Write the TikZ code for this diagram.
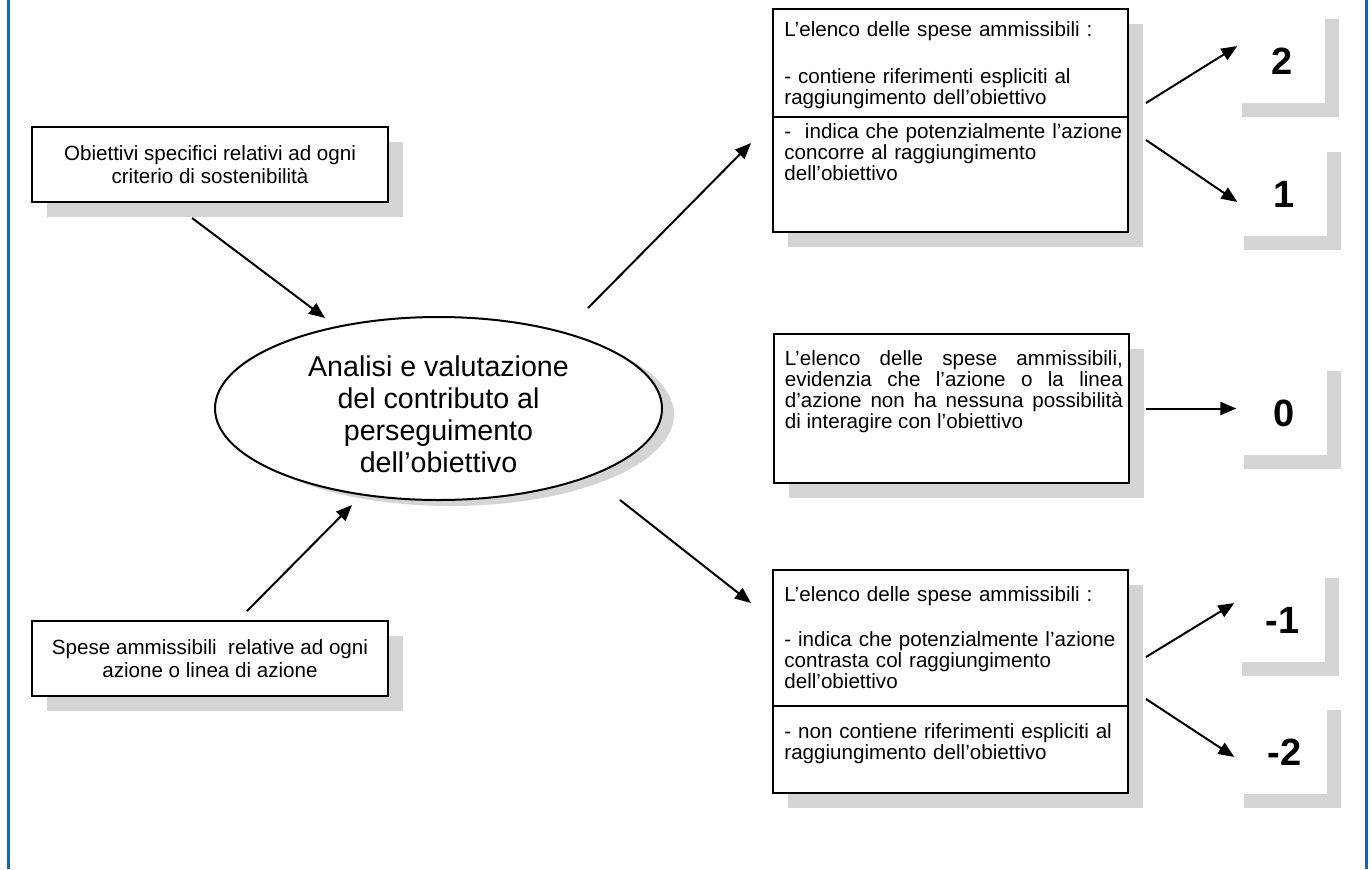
\documentclass[tikz,border=0pt]{standalone}
\usepackage{fontspec}
\setmainfont{Liberation Sans}
\usetikzlibrary{arrows.meta, shapes.geometric, shadows, calc}

\definecolor{shadowgray}{RGB}{211,212,214}
\definecolor{frameblue}{RGB}{20,100,180}

\begin{document}
\begin{tikzpicture}[
    x=0.5pt, y=-0.5pt,
    card/.style={rectangle, draw, line width=1pt, fill=white,
        drop shadow={shadow xshift=7.5pt, shadow yshift=-7.5pt, fill=shadowgray, opacity=1}},
    source/.style={card, minimum width=178pt, minimum height=37.5pt, align=center,
        font=\fontsize{10.3pt}{11.5pt}\selectfont},
    result/.style={card, minimum width=177.5pt},
    note/.style={anchor=north west, inner sep=0pt, text width=170pt, align=left,
        font=\fontsize{10.3pt}{10.4pt}\selectfont},
    score/.style={minimum width=48.75pt, minimum height=49pt, inner sep=0pt, fill=white,
        drop shadow={shadow xshift=7pt, shadow yshift=-7pt, fill=shadowgray, opacity=1},
        font=\bfseries\fontsize{19pt}{19pt}\selectfont, text height=20.6pt, text depth=0pt,
        execute at begin node={\hspace*{6pt}}},
    link/.style={line width=1pt, -{Triangle[length=8pt, width=6.5pt]}}
]
\useasboundingbox (0,0) rectangle (1372,869);

% frame
\draw[frameblue, line width=1.5pt] (8,0) -- (8,869);
\draw[frameblue, line width=1.5pt] (1366,0) -- (1366,869);

% inputs
\node[source] (goal) at (210,164.5) {Obiettivi specifici relativi ad ogni\\criterio di sostenibilità};
\node[source] (spend) at (210,658.5) {Spese ammissibili\ \ relative ad ogni\\azione o linea di azione};

% evaluation
\node[ellipse, draw, line width=1pt, fill=white, inner sep=0pt,
      minimum width=223.5pt, minimum height=91.5pt, align=center,
      font=\fontsize{14.3pt}{16pt}\selectfont,
      drop shadow={shadow xshift=6pt, shadow yshift=-3pt, fill=shadowgray, opacity=1}]
    (eval) at (438.5,408.5) {\rule{0pt}{16pt}Analisi e valutazione\\del contributo al\\perseguimento\\dell'obiettivo};

% outcome boxes
\node[result, minimum height=111.5pt] (pos) at (950.5,120.5) {};
\node[result, minimum height=74.5pt] (none) at (951,408.5) {};
\node[result, minimum height=111.5pt] (neg) at (950.5,681.5) {};
\draw[line width=1pt] ($(pos.north west)+(0,109)$) -- ($(pos.north east)+(0,109)$);
\draw[line width=1pt] ($(neg.north west)+(0,137)$) -- ($(neg.north east)+(0,137)$);

\node[note] (posA) at ($(pos.north west)+(12,13.5)$) {L'elenco delle spese ammissibili :\\[13.1pt]- contiene riferimenti espliciti al\\raggiungimento dell'obiettivo};
\node[note] (posB) at ($(pos.north west)+(12,115.5)$) {- \ indica che potenzialmente l'azione\\concorre al raggiungimento\\dell'obiettivo};
\node[note, text width=169pt, align=justify] (noneA) at ($(none.north west)+(12,17.5)$) {L'elenco delle spese ammissibili,\linebreak evidenzia che l'azione o la linea\linebreak d'azione non ha nessuna possibilità\linebreak di interagire con l'obiettivo};
\node[note] (negA) at ($(neg.north west)+(12,17.5)$) {L'elenco delle spese ammissibili :\\[12.1pt]- indica che potenzialmente l'azione\\contrasta col raggiungimento\\dell'obiettivo};
\node[note] (negB) at ($(neg.north west)+(12,154.5)$) {- non contiene riferimenti espliciti al\\raggiungimento dell'obiettivo};

% scores
\node[score] (s2) at (1276.5,54) {2};
\node[score] (s1) at (1278.5,186.5) {1};
\node[score] (s0) at (1278.5,406) {0};
\node[score] (sm1) at (1276.5,612.5) {-1};
\node[score] (sm2) at (1278.5,745) {-2};

% links
\draw[link] ($(goal.south)+(-18,15)$) -- ($(eval.center)+(-113.5,-90.5)$);
\draw[link] ($(spend.north)+(37,-9)$) -- ($(eval.center)+(-86.5,96.5)$);
\draw[link] ($(eval.center)+(149.5,-100.5)$) -- ($(pos.west)+(-21,22.5)$);
\draw[link] ($(eval.center)+(181.5,91.5)$) -- ($(neg.west)+(-21,-78.5)$);
\draw[link] ($(pos.east)+(17,-17.5)$) -- ($(s2.west)+(10,-8)$);
\draw[link] ($(pos.east)+(17,19.5)$) -- ($(s1.west)+(8,15.5)$);
\draw[link] ($(none.east)+(16,0)$) -- ($(s0.west)+(7,2.5)$);
\draw[link] ($(neg.east)+(17,-24.5)$) -- ($(sm1.west)+(7,-9.5)$);
\draw[link] ($(neg.east)+(17,17.5)$) -- ($(sm2.west)+(5,12)$);
\end{tikzpicture}
\end{document}
